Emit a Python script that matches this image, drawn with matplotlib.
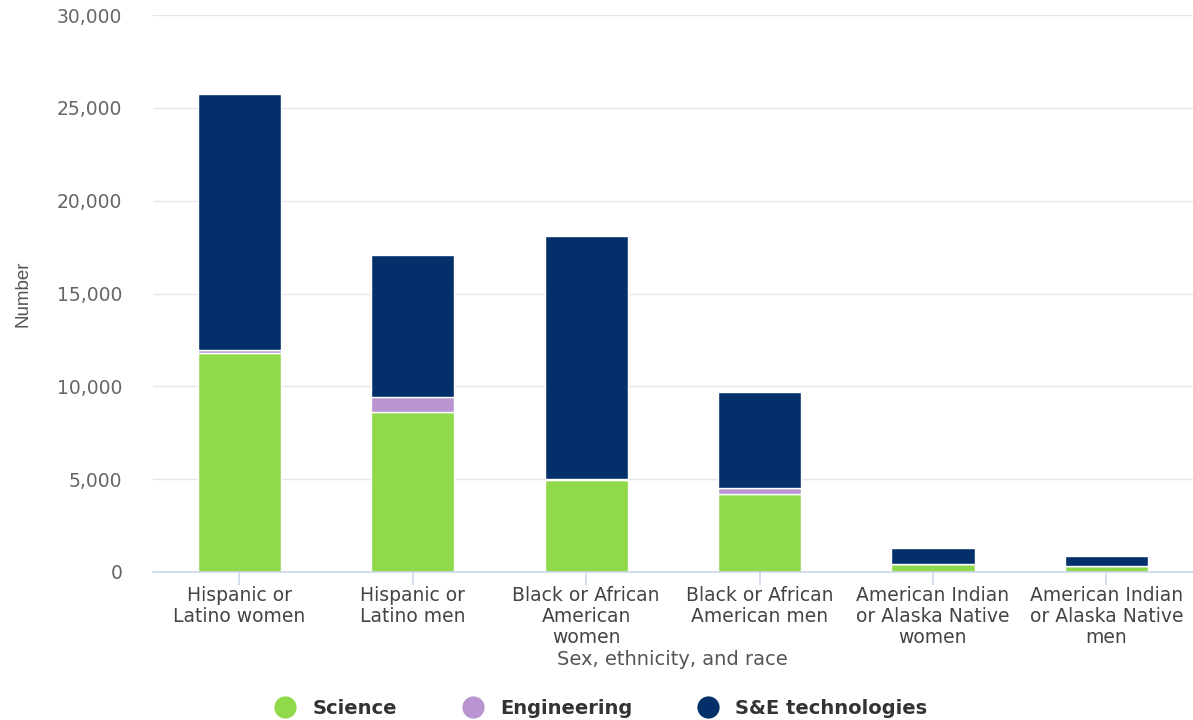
import matplotlib
matplotlib.use("Agg")
import matplotlib.pyplot as plt
from matplotlib.lines import Line2D
import numpy as np

plt.rcParams['font.family'] = ['DejaVu Sans']

categories = ["Hispanic or\nLatino women", "Hispanic or\nLatino men",
              "Black or African\nAmerican\nwomen", "Black or African\nAmerican men",
              "American Indian\nor Alaska Native\nwomen", "American Indian\nor Alaska Native\nmen"]
science = [11800, 8600, 4950, 4200, 430, 320]
engineering = [150, 800, 60, 300, 20, 15]
technologies = [13800, 7650, 13100, 5170, 840, 525]

series_names = ["Science", "Engineering", "S&E technologies"]
colors = ["#8fd94a", "#b994d0", "#03306a"]

fig = plt.figure(figsize=(11.93, 7.2), dpi=100)
ax = fig.add_axes([0.128, 0.2056, 0.872, 0.7734])

x = np.arange(len(categories))
bottom = np.zeros(len(categories))
for vals, c in zip([science, engineering, technologies], colors):
    ax.bar(x, vals, width=0.48, bottom=bottom, color=c, edgecolor="white", linewidth=1, zorder=3)
    bottom += np.array(vals)

ax.set_xlim(-0.5, len(categories) - 0.5)
ax.set_ylim(0, 30000)
ax.set_yticks(range(0, 30001, 5000))
ax.set_yticklabels([f"{v:,}" for v in range(0, 30001, 5000)])
ax.grid(axis="y", color="#e6e6e6", linewidth=1, zorder=0)
for s in ["top", "right", "left"]:
    ax.spines[s].set_visible(False)
ax.spines["bottom"].set_color("#ccd6eb")
ax.spines["bottom"].set_linewidth(1.2)
ax.spines["bottom"].set_zorder(4)

ax.set_xticks(x)
ax.set_xticklabels(categories, fontsize=13.5, color="#444444", linespacing=1.15)
ax.tick_params(axis="x", length=9, color="#ccd6eb", width=1.2, pad=1)
ax.tick_params(axis="y", length=0, labelsize=13.5, labelcolor="#666666", pad=22)

ax.set_xlabel("Sex, ethnicity, and race", fontsize=14, color="#555555", labelpad=2)
ax.set_ylabel("Number", fontsize=13.5, color="#555555", labelpad=18,
              family=['Liberation Sans Narrow', 'Liberation Sans'])

handles = [Line2D([0], [0], marker="o", linestyle="", markersize=15, markerfacecolor=c,
                  markeredgecolor=c) for c in colors]
leg = fig.legend(handles, series_names, loc="center", bbox_to_anchor=(0.5, 0.016),
                 ncol=3, frameon=False, handletextpad=0.4, columnspacing=2.9,
                 prop={"weight": "bold", "size": 14})
for t in leg.get_texts():
    t.set_color("#333333")

fig.savefig("out.png", dpi=100)
